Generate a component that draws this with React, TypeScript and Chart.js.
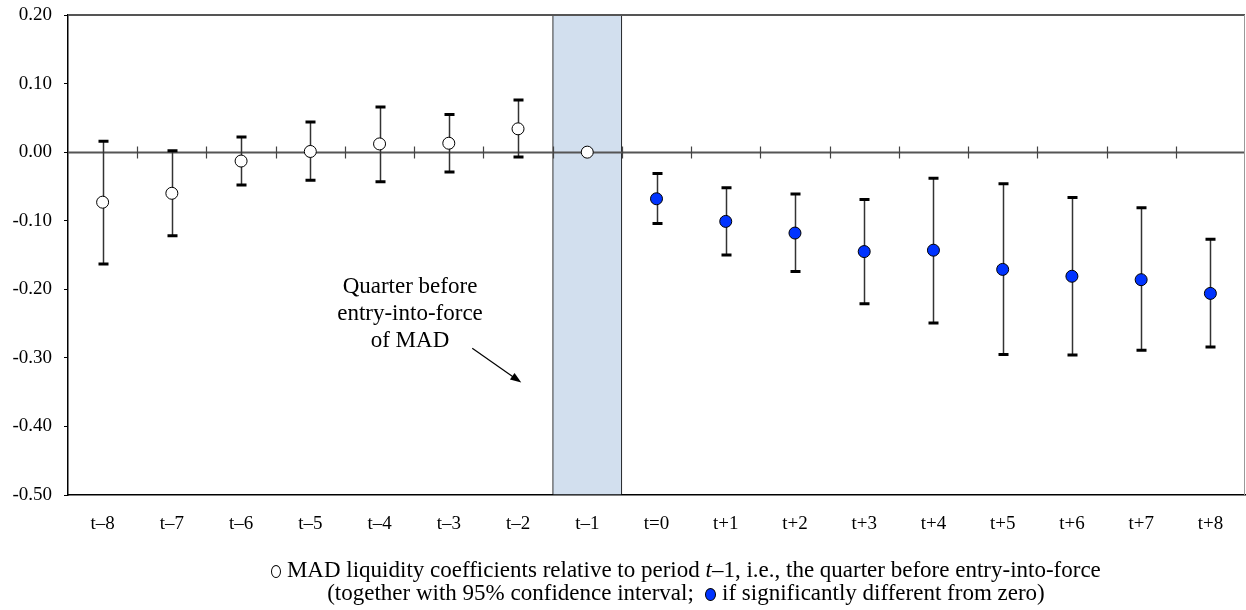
import React, { useEffect, useRef } from 'react';
import { Chart, registerables } from 'chart.js';

Chart.register(...registerables);

const periods = ['t–8', 't–7', 't–6', 't–5', 't–4', 't–3', 't–2', 't–1', 't=0', 't+1', 't+2', 't+3', 't+4', 't+5', 't+6', 't+7', 't+8'];
const coefficients = [-0.073, -0.060, -0.013, 0.001, 0.012, 0.013, 0.034, 0.0, -0.068, -0.101, -0.118, -0.145, -0.143, -0.171, -0.181, -0.186, -0.206];
const upperCI: (number | null)[] = [0.016, 0.002, 0.022, 0.044, 0.066, 0.055, 0.076, null, -0.031, -0.052, -0.061, -0.069, -0.038, -0.046, -0.066, -0.081, -0.127];
const lowerCI: (number | null)[] = [-0.163, -0.122, -0.048, -0.041, -0.043, -0.029, -0.007, null, -0.104, -0.150, -0.174, -0.221, -0.249, -0.295, -0.296, -0.289, -0.284];
const significant = [false, false, false, false, false, false, false, false, true, true, true, true, true, true, true, true, true];
const yTickValues = [0.2, 0.1, 0.0, -0.1, -0.2, -0.3, -0.4, -0.5];
const Y_MIN = -0.5;
const Y_MAX = 0.2;
const referencePeriod = 't–1';

const SERIF = '"Liberation Serif", "Times New Roman", serif';
const BLUE = '#0033ff';

const decorPlugin = {
  id: 'decor',
  afterDatasetDraw(chart: any, args: any) {
    if (args.index !== 0) return;
    const { ctx, chartArea: a, scales } = chart;
    const x = scales.x;
    const y = scales.y;
    const y0 = Math.round(y.getPixelForValue(0)) + 0.5;
    ctx.save();
    // zero line
    ctx.strokeStyle = '#555555';
    ctx.lineWidth = 2;
    ctx.beginPath();
    ctx.moveTo(a.left, y0);
    ctx.lineTo(a.right, y0);
    ctx.stroke();
    // category boundary ticks on zero line
    ctx.strokeStyle = '#444444';
    ctx.lineWidth = 1.2;
    for (let i = 0; i < periods.length - 1; i++) {
      const bx = Math.round((x.getPixelForValue(i) + x.getPixelForValue(i + 1)) / 2) + 0.5;
      ctx.beginPath();
      ctx.moveTo(bx, y0 - 6);
      ctx.lineTo(bx, y0 + 6);
      ctx.stroke();
    }
    // error bars
    for (let i = 0; i < periods.length; i++) {
      const u = upperCI[i];
      const l = lowerCI[i];
      if (u == null || l == null) continue;
      const px = Math.round(x.getPixelForValue(i)) + 0.5;
      const yu = y.getPixelForValue(u);
      const yl = y.getPixelForValue(l);
      ctx.strokeStyle = '#333333';
      ctx.lineWidth = 1.5;
      ctx.beginPath();
      ctx.moveTo(px, yu);
      ctx.lineTo(px, yl);
      ctx.stroke();
      ctx.strokeStyle = '#000000';
      ctx.lineWidth = 3;
      ctx.beginPath();
      ctx.moveTo(px - 5, yu);
      ctx.lineTo(px + 5, yu);
      ctx.moveTo(px - 5, yl);
      ctx.lineTo(px + 5, yl);
      ctx.stroke();
    }
    ctx.restore();
  },
  afterDraw(chart: any) {
    const { ctx, chartArea: a, scales } = chart;
    const x = scales.x;
    const y = scales.y;
    ctx.save();
    // top border
    ctx.strokeStyle = '#555555';
    ctx.lineWidth = 2;
    ctx.beginPath();
    ctx.moveTo(a.left, a.top);
    ctx.lineTo(a.right, a.top);
    ctx.stroke();
    // right border
    ctx.strokeStyle = '#999999';
    ctx.lineWidth = 1;
    ctx.beginPath();
    ctx.moveTo(a.right - 0.5, a.top);
    ctx.lineTo(a.right - 0.5, a.bottom);
    ctx.stroke();
    // annotation arrow pointing at the reference-period band
    const refIdx = periods.indexOf(referencePeriod);
    const cx = x.getPixelForValue(refIdx);
    const x1 = cx - 115;
    const y1 = y.getPixelForValue(-0.286);
    const x2 = cx - 66;
    const y2 = y.getPixelForValue(-0.336);
    const ang = Math.atan2(y2 - y1, x2 - x1);
    ctx.strokeStyle = '#000';
    ctx.fillStyle = '#000';
    ctx.lineWidth = 1.2;
    ctx.beginPath();
    ctx.moveTo(x1, y1);
    ctx.lineTo(x2 - 8 * Math.cos(ang), y2 - 8 * Math.sin(ang));
    ctx.stroke();
    ctx.beginPath();
    ctx.moveTo(x2, y2);
    ctx.lineTo(x2 - 11 * Math.cos(ang) + 4 * Math.sin(ang), y2 - 11 * Math.sin(ang) - 4 * Math.cos(ang));
    ctx.lineTo(x2 - 11 * Math.cos(ang) - 4 * Math.sin(ang), y2 - 11 * Math.sin(ang) + 4 * Math.cos(ang));
    ctx.closePath();
    ctx.fill();
    ctx.restore();
  },
};

export default function App() {
  const canvasRef = useRef<HTMLCanvasElement | null>(null);

  useEffect(() => {
    if (!canvasRef.current) return;
    const bandData = periods.map((p) => (p === referencePeriod ? [Y_MIN, Y_MAX] : null));
    const chart = new Chart(canvasRef.current, {
      type: 'bar',
      data: {
        labels: periods,
        datasets: [
          {
            type: 'bar',
            data: bandData as any,
            backgroundColor: '#d2dfee',
            borderColor: '#000000',
            borderWidth: 1,
            borderSkipped: false,
            barPercentage: 1,
            categoryPercentage: 1,
            order: 3,
          } as any,
          {
            type: 'line',
            data: coefficients,
            showLine: false,
            pointRadius: 6,
            pointHoverRadius: 6,
            pointBorderWidth: 1,
            pointBorderColor: '#000000',
            pointBackgroundColor: significant.map((s) => (s ? BLUE : '#ffffff')),
            clip: false,
            order: 1,
          } as any,
        ],
      },
      options: {
        responsive: false,
        animation: false,
        events: [],
        layout: { autoPadding: false, padding: { left: 0, top: 15, right: 1, bottom: 75 } },
        plugins: {
          legend: { display: false },
          tooltip: { enabled: false },
        },
        scales: {
          x: {
            grid: { display: true, drawOnChartArea: false, drawTicks: false },
            border: { display: true, color: '#000000', width: 1.5 },
            ticks: {
              color: '#000000',
              font: { family: SERIF, size: 19 },
              padding: 18,
              maxRotation: 0,
              autoSkip: false,
            },
            afterFit: (s: any) => {
              s.height = 40;
              s.paddingLeft = 0;
              s.paddingRight = 0;
            },
          },
          y: {
            min: Y_MIN,
            max: Y_MAX,
            afterBuildTicks: (s: any) => {
              s.ticks = yTickValues.map((v) => ({ value: v }));
            },
            grid: { display: true, drawOnChartArea: false, drawTicks: true, tickLength: 4, color: '#000000' },
            border: { display: true, color: '#000000', width: 1.5 },
            ticks: {
              color: '#000000',
              font: { family: SERIF, size: 19 },
              padding: 12,
              callback: (v: any) => Number(v).toFixed(2),
            },
            afterFit: (s: any) => {
              s.width = 68;
              s.paddingTop = 0;
              s.paddingBottom = 0;
            },
          },
        },
      },
      plugins: [decorPlugin],
    });
    return () => chart.destroy();
  }, []);

  const circleBase: React.CSSProperties = {
    display: 'inline-block',
    width: 10,
    height: 13,
    borderRadius: '50%',
    border: '1.6px solid #000',
    boxSizing: 'border-box',
    verticalAlign: '-1px',
  };

  return (
    <div style={{ position: 'absolute', left: 0, top: 0, width: 1246, height: 610, background: '#fff', fontFamily: SERIF }}>
      <canvas ref={canvasRef} width={1246} height={610} style={{ display: 'block' }} />
      <div
        style={{
          position: 'absolute',
          left: 260,
          width: 300,
          top: 272,
          textAlign: 'center',
          fontSize: 23,
          lineHeight: '27px',
          color: '#000',
        }}
      >
        <div>Quarter before</div>
        <div>entry-into-force</div>
        <div>of MAD</div>
      </div>
      <div
        style={{
          position: 'absolute',
          left: 86,
          width: 1200,
          top: 558,
          textAlign: 'center',
          fontSize: 23,
          lineHeight: '23px',
          color: '#000',
          whiteSpace: 'nowrap',
        }}
      >
        <div>
          <span style={{ ...circleBase, background: '#fff' }} /> MAD liquidity coefficients relative to period <i>t</i>–1, i.e., the quarter before entry-into-force
        </div>
        <div>
          (together with 95% confidence interval;&nbsp; <span style={{ ...circleBase, background: BLUE, width: 11 }} /> if significantly different from zero)
        </div>
      </div>
    </div>
  );
}
